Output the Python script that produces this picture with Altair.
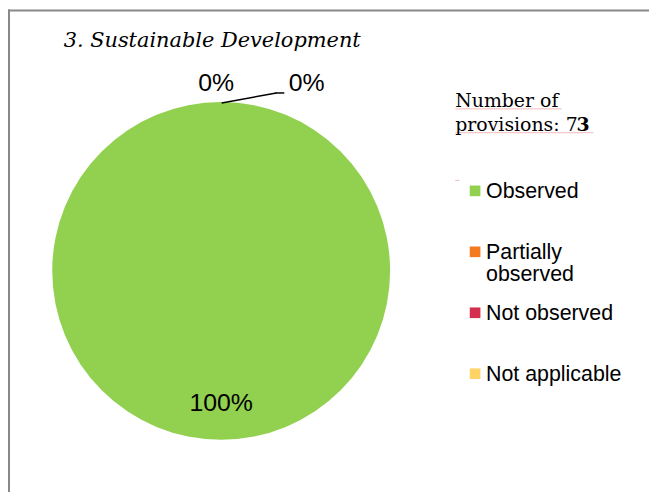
import altair as alt
import pandas as pd

categories = ["Observed", "Partially observed", "Not observed", "Not applicable"]
counts = [73, 0, 0, 0]
colors = ["#92D050", "#F47A20", "#D42F4F", "#FFD466"]
legend_labels = ["Observed", "Partially\nobserved", "Not observed", "Not applicable"]
title_text = "3. Sustainable Development"
note_lines = ["Number of", "provisions: 7"]
note_bold = "3"

total = sum(counts)
df = pd.DataFrame({
    "cat": categories,
    "n": counts,
    "order": list(range(len(categories))),
    "pct": [f"{round(100 * c / total)}%" for c in counts],
    "leg": legend_labels,
})

color_scale = alt.Scale(domain=categories, range=colors)
CX, CY, R = 214.5, 263, 170

base = alt.Chart(df)

pie = base.mark_arc(radius=R, stroke=None).encode(
    theta=alt.Theta("n:Q", stack=True),
    color=alt.Color("cat:N", scale=color_scale, legend=None),
    order=alt.Order("order:Q"),
    x=alt.value(CX), y=alt.value(CY),
)

lbl_font = "Liberation Sans"
big = base.transform_filter(alt.datum.cat == "Observed").mark_text(
    radius=133, fontSize=25, font=lbl_font, color="black"
).encode(
    theta=alt.Theta("n:Q", stack=True), order=alt.Order("order:Q"),
    text="pct:N", x=alt.value(CX), y=alt.value(CY),
)

zl = base.transform_filter(alt.datum.cat == "Partially observed").mark_text(
    fontSize=25, font=lbl_font, color="black", dx=-5
).encode(text="pct:N", x=alt.value(CX), y=alt.value(CY - 189))
zr = base.transform_filter(alt.datum.cat == "Not observed").mark_text(
    fontSize=25, font=lbl_font, color="black", dx=86
).encode(text="pct:N", x=alt.value(CX), y=alt.value(CY - 189))

one = pd.DataFrame({"a": [0]})
leader1 = alt.Chart(one).mark_rule(color="black", strokeWidth=1.5).encode(
    x=alt.value(215), y=alt.value(94), x2=alt.value(270), y2=alt.value(84))
leader2 = alt.Chart(one).mark_rule(color="black", strokeWidth=1.5).encode(
    x=alt.value(269), y=alt.value(84), x2=alt.value(278), y2=alt.value(84))

row_scale = alt.Scale(domain=categories, range=[182.5, 366.5], padding=0)
leg_sq = base.mark_square(size=115, opacity=1).encode(
    x=alt.value(470),
    y=alt.Y("cat:N", scale=row_scale, axis=None),
    color=alt.Color("cat:N", scale=color_scale, legend=None),
)
leg_tx = base.mark_text(align="left", baseline="alphabetic", fontSize=21.5, font=lbl_font,
                        color="black", lineBreak="\n", dy=7.5, lineHeight=22).encode(
    x=alt.value(481),
    y=alt.Y("cat:N", scale=row_scale, axis=None),
    text="leg:N",
)

serif = "DejaVu Serif"
title = alt.Chart(one).mark_text(align="left", baseline="alphabetic", fontSize=21,
                                 font=serif, fontStyle="italic", color="black").encode(
    x=alt.value(56), y=alt.value(38), text=alt.value(title_text))
note1 = alt.Chart(one).mark_text(align="left", baseline="alphabetic", fontSize=19,
                                 font=serif, color="black").encode(
    x=alt.value(450), y=alt.value(98.5), text=alt.value(note_lines[0]))
note2 = alt.Chart(one).mark_text(align="left", baseline="alphabetic", fontSize=19,
                                 font=serif, color="black").encode(
    x=alt.value(450), y=alt.value(122.5), text=alt.value(note_lines[1]))
note3 = alt.Chart(one).mark_text(align="left", baseline="alphabetic", fontSize=19,
                                 font=serif, fontWeight="bold", color="black").encode(
    x=alt.value(572), y=alt.value(122.5), text=alt.value(note_bold))

pink = "#F4B8B8"
u1 = alt.Chart(one).mark_rule(color=pink, strokeWidth=1).encode(
    x=alt.value(450), x2=alt.value(557), y=alt.value(100), y2=alt.value(100))
u2 = alt.Chart(one).mark_rule(color=pink, strokeWidth=1).encode(
    x=alt.value(450), x2=alt.value(589), y=alt.value(124), y2=alt.value(124))
u3 = alt.Chart(one).mark_rule(color=pink, strokeWidth=1).encode(
    x=alt.value(450), x2=alt.value(454), y=alt.value(172), y2=alt.value(172))

border_top = alt.Chart(one).mark_rule(color="#888888", strokeWidth=2).encode(
    x=alt.value(0), x2=alt.value(660), y=alt.value(1), y2=alt.value(1))
border_left = alt.Chart(one).mark_rule(color="#888888", strokeWidth=2).encode(
    x=alt.value(1), x2=alt.value(1), y=alt.value(0), y2=alt.value(500))

chart = alt.layer(
    border_top, border_left, pie, big, zl, zr, leader1, leader2,
    leg_sq, leg_tx, title, u1, u2, u3, note1, note2, note3,
).resolve_scale(y="independent").properties(
    width=645, height=484, autosize=alt.AutoSizeParams(type="none"), padding=0,
).configure_view(stroke=None)

chart.save("out.html", embed_options={"renderer": "svg", "actions": False})
